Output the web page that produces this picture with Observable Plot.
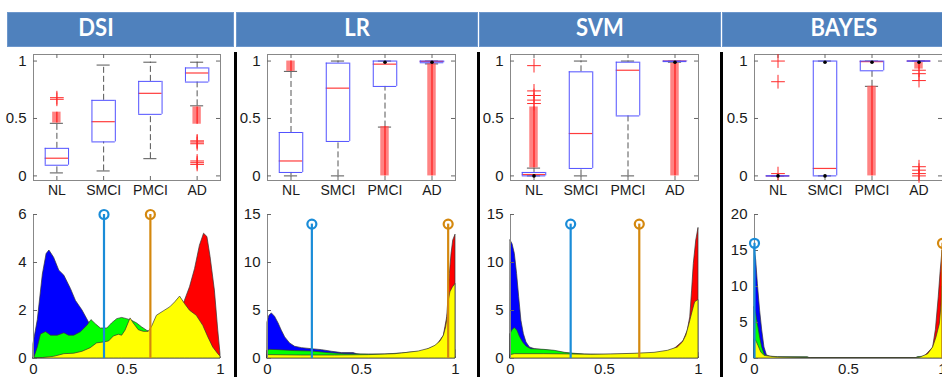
<!DOCTYPE html>
<html><head><meta charset="utf-8">
<script src="https://cdn.jsdelivr.net/npm/d3@7"></script>
<script src="https://cdn.jsdelivr.net/npm/@observablehq/plot@0.6"></script>
<style>
body{margin:0;background:#fff;}
#root{position:relative;width:942px;height:377px;overflow:hidden;background:#fff;}
.hdr{position:absolute;top:12px;height:35px;background:#4F81BD;box-shadow:inset 0 0 0 1px #6d97cc;}
.ttl{position:absolute;top:9px;height:35px;line-height:35px;color:#fff;font-family:Lato,"Open Sans",sans-serif;font-weight:bold;font-size:25px;transform:translateX(-50%) scaleX(0.88);white-space:nowrap;}
.sep{position:absolute;top:52px;height:325px;width:3px;background:#000;}
.pl{position:absolute;}
</style></head><body><div id="root"></div>
<script>
// ---------- data ----------
const methods = ["DSI", "LR", "SVM", "BAYES"];
const groups = ["NL", "SMCI", "PMCI", "AD"];

// box stats per group: [lower whisker, q1, median, q3, upper whisker]
const boxDSI   = [[0.026,0.093,0.154,0.24,0.458],[0.043,0.296,0.472,0.658,0.965],[0.15,0.536,0.719,0.823,0.99],[0.61,0.817,0.896,0.94,0.99]];
const boxLR    = [[0,0.03,0.13,0.378,0.91],[0,0.30,0.764,0.982,1],[0.425,0.779,0.973,1,1],[0.975,0.985,0.997,1,1]];
const boxSVM   = [[0,0,0.012,0.03,0.068],[0,0.065,0.369,0.906,1],[0,0.522,0.92,0.99,1],[0.99,0.995,1,1,1]];
const boxBAYES = [[0,0,0,0,0],[0,0,0.065,1,1],[0.78,0.915,0.995,1,1],[1,1,1,1,1]];

// single outliers (+) per group
const outDSI   = [[0.667,0.681],[],[],[0.28,0.295,0.305,0.1,0.115,0.13]];
const outLR    = [[],[],[],[]];
const outSVM   = [[0.63,0.66,0.7,0.74,0.96],[],[],[]];
const outBAYES = [[1.0,0.82,0.02],[],[],[0.92,0.89,0.83,0.08,0.05,0.02,0.0]];

// dense runs of outliers per group: [from, to]
const bandDSI   = [[[0.46,0.555]],[],[],[[0.45,0.6]]];
const bandLR    = [[[0.91,1.0]],[],[[0,0.43]],[[0,0.98]]];
const bandSVM   = [[[0.07,0.6]],[],[],[[0,0.98]]];
const bandBAYES = [[],[],[[0,0.78]],[[0.93,0.99]]];

// black markers per group
const dotDSI   = [[],[],[],[]];
const dotLR    = [[],[],[0.99],[0.99]];
const dotSVM   = [[0],[],[],[0.99]];
const dotBAYES = [[0],[0,0.99],[0.99],[0.99]];

// density curves [x, density]
const dsiNL   = [[0,0.6],[0.023,1.6],[0.05,3.5],[0.07,4.35],[0.085,4.5],[0.11,4.2],[0.138,3.66],[0.165,3.45],[0.2,2.9],[0.227,2.4],[0.262,2.0],[0.297,1.5],[0.33,1.1],[0.36,0.8],[0.4,0.5],[0.45,0.25],[0.5,0.1],[0.55,0.03],[0.6,0],[1,0]];
const dsiSMCI = [[0,0],[0.005,0.04],[0.023,0.46],[0.04,1.0],[0.067,1.1],[0.094,0.95],[0.13,0.95],[0.165,1.05],[0.19,0.95],[0.218,0.95],[0.253,1.09],[0.288,1.36],[0.31,1.6],[0.333,1.43],[0.36,1.25],[0.395,1.25],[0.42,1.46],[0.448,1.64],[0.474,1.69],[0.5,1.64],[0.527,1.57],[0.554,1.46],[0.58,1.3],[0.607,1.16],[0.625,1.09],[0.66,1.0],[0.7,0.8],[0.8,0.5],[0.9,0.2],[1,0.05]];
const dsiPMCI = [[0,0],[0.05,0.02],[0.11,0.07],[0.165,0.18],[0.218,0.2],[0.262,0.28],[0.306,0.43],[0.34,0.63],[0.377,0.67],[0.404,0.71],[0.43,0.92],[0.457,0.99],[0.474,0.95],[0.492,1.16],[0.519,1.67],[0.536,1.46],[0.563,1.18],[0.59,1.11],[0.616,1.11],[0.634,1.32],[0.66,1.78],[0.696,1.96],[0.731,2.13],[0.758,2.34],[0.784,2.58],[0.81,2.27],[0.837,1.99],[0.873,1.78],[0.908,1.36],[0.935,0.88],[0.961,0.46],[0.988,0.18],[1,0.08]];
const dsiAD   = [[0.4,0],[0.5,0.1],[0.6,0.3],[0.7,0.8],[0.75,1.3],[0.78,1.8],[0.81,2.41],[0.837,2.97],[0.864,3.73],[0.89,4.7],[0.912,5.2],[0.93,5.06],[0.947,4.22],[0.97,2.83],[0.988,1.16],[1,0.18]];

const lrNL   = [[0,3.76],[0.01,4.45],[0.023,4.7],[0.04,4.35],[0.059,3.65],[0.076,2.9],[0.094,2.2],[0.12,1.57],[0.147,1.22],[0.183,1.08],[0.236,0.97],[0.29,0.87],[0.343,0.7],[0.396,0.56],[0.458,0.56],[0.476,0.45],[0.5,0.35],[0.7,0.3],[0.9,0.3],[1,0.2]];
const lrSMCI = [[0,0.8],[0.014,0.9],[0.059,0.87],[0.147,0.77],[0.236,0.73],[0.325,0.56],[0.414,0.45],[0.538,0.42],[0.627,0.42],[0.716,0.52],[0.77,0.63],[0.85,0.7],[0.95,0.8],[1,0.9]];
const lrPMCI = [[0,0.35],[0.18,0.31],[0.36,0.31],[0.54,0.35],[0.68,0.45],[0.75,0.6],[0.805,0.73],[0.858,1.0],[0.893,1.32],[0.92,1.78],[0.938,2.37],[0.95,3.24],[0.956,4.0],[0.96,4.63],[0.964,6.0],[0.973,6.9],[0.986,7.4],[1,7.76]];
const lrAD   = [[0.8,0.5],[0.9,1.3],[0.938,2.37],[0.956,4.3],[0.964,6.7],[0.97,8.8],[0.979,10.9],[0.988,12.3],[1,12.9]];

const svmNL   = [[0,12.3],[0.011,11.9],[0.023,10.9],[0.035,8.8],[0.046,6.4],[0.058,3.93],[0.071,2.54],[0.085,1.67],[0.103,1.15],[0.13,0.97],[0.2,0.8],[0.3,0.5],[0.4,0.35],[0.5,0.3],[0.7,0.3],[1,0.2]];
const svmSMCI = [[0,2.54],[0.011,2.96],[0.023,3.17],[0.037,2.9],[0.05,2.26],[0.067,1.67],[0.085,1.25],[0.11,0.97],[0.18,0.9],[0.235,0.8],[0.29,0.59],[0.34,0.49],[0.395,0.42],[0.5,0.38],[0.6,0.4],[0.8,0.5],[1,0.6]];
const svmPMCI = [[0,0.35],[0.023,0.45],[0.18,0.45],[0.32,0.42],[0.43,0.38],[0.536,0.42],[0.66,0.49],[0.766,0.59],[0.837,0.8],[0.89,1.15],[0.917,1.67],[0.935,2.37],[0.952,3.59],[0.97,4.98],[0.982,5.85],[1,6.1]];
const svmAD   = [[0.85,0.6],[0.92,1.8],[0.943,2.9],[0.956,4.28],[0.966,7.07],[0.975,9.85],[0.988,12.29],[1,13.6]];

const bayNL   = [[0,15.45],[0.009,13.6],[0.018,10.3],[0.03,6.6],[0.041,3.9],[0.053,1.53],[0.066,0.46],[0.089,0.14],[0.124,0.05],[0.2,0],[1,0]];
const baySMCI = [[0,7.1],[0.009,6.17],[0.018,4.78],[0.03,2.92],[0.041,1.53],[0.053,0.6],[0.066,0.28],[0.124,0.19],[0.284,0.19],[0.293,0.05],[0.86,0.05],[0.87,0.2],[0.93,0.25],[0.95,0.8],[1,3]];
const bayPMCI = [[0,2.6],[0.009,2.46],[0.021,1.76],[0.036,0.84],[0.053,0.37],[0.089,0.23],[0.124,0.14],[0.3,0.05],[0.85,0.05],[0.88,0.1],[0.924,0.6],[0.95,1.53],[0.968,2.92],[0.986,4.78],[0.995,7.5],[1,10]];
const bayAD   = [[0.9,0.1],[0.95,1.5],[0.965,4],[0.98,8.5],[0.99,12],[1,15]];

// stems [x, height]: [blue, orange]
const stemDSI   = [[0.377,6],[0.625,6]];
const stemLR    = [[0.236,14],[0.961,14]];
const stemSVM   = [[0.32,14],[0.685,14]];
const stemBAYES = [[0,16],[1,16]];

const yMax   = [6, 15, 15, 20];
const yTicks = [[0,2,4,6],[0,5,10,15],[0,5,10,15],[0,5,10,15,20]];

// ---------- layout ----------
const X0 = [33, 267, 510, 754];
const FW = [187, 188, 188, 188];
const hdrs = [[7,234],[236,477.5],[479,720.5],[722,960]];
const ttlX = [96, 357, 600, 844];
const seps = [234, 477, 720];

const root = document.getElementById("root");
hdrs.forEach((h,k)=>{
  const d = document.createElement("div"); d.className="hdr";
  d.style.left = h[0]+"px"; d.style.width=(h[1]-h[0])+"px"; root.appendChild(d);
  const t = document.createElement("div"); t.className="ttl"; t.textContent = methods[k];
  t.style.left = ttlX[k]+"px"; root.appendChild(t);
});
seps.forEach(x=>{const d=document.createElement("div");d.className="sep";d.style.left=x+"px";root.appendChild(d);});

const font = {fontFamily:'"Liberation Sans", Arial, sans-serif', fontSize:"15px", color:"#1a1a1a", background:"transparent", overflow:"visible"};

const boxCfg = [
  [boxDSI,outDSI,bandDSI,dotDSI],[boxLR,outLR,bandLR,dotLR],
  [boxSVM,outSVM,bandSVM,dotSVM],[boxBAYES,outBAYES,bandBAYES,dotBAYES]];
const densCfg = [[dsiNL,dsiSMCI,dsiPMCI,dsiAD],[lrNL,lrSMCI,lrPMCI,lrAD],[svmNL,svmSMCI,svmPMCI,svmAD],[bayNL,baySMCI,bayPMCI,bayAD]];
const stems = [stemDSI, stemLR, stemSVM, stemBAYES];

const ML = 35, FH = 126, YLO = -0.04, YHI = 1.057;

function boxChart(k){
  const [stats, outs, bands, dots] = boxCfg[k];
  const w = FW[k];
  const ux = 4 / w, uy = (YHI - YLO) / FH;
  const rows = stats.map((s,i)=>({i:i+1, lo:s[0], q1:s[1], med:s[2], q3:s[3], hi:s[4]}));
  const outRows = outs.flatMap((a,i)=>a.map(v=>({i:i+1, v})));
  const bandRows = bands.flatMap((a,i)=>a.map(b=>({i:i+1, lo:b[0], hi:b[1]})));
  const dotRows = dots.flatMap((a,i)=>a.map(v=>({i:i+1, v})));
  const blue = "#5050ff", wc = "#555";
  return Plot.plot({
    width: ML + w + 8, height: 5 + FH + 22,
    marginLeft: ML, marginRight: 8, marginTop: 5, marginBottom: 22,
    x: {domain:[0.5,4.5]}, y: {domain:[YLO,YHI]},
    style: font,
    marks: [
      Plot.frame({stroke:"#888"}),
      Plot.ruleY([0,0.5,1], {x1:0.5, x2:0.5+4*ux, stroke:"#666"}),
      Plot.ruleY([0,0.5,1], {x1:4.5-4*ux, x2:4.5, stroke:"#666"}),
      Plot.ruleX([1,2,3,4], {y1:YLO, y2:YLO+4*uy, stroke:"#666"}),
      Plot.ruleX([1,2,3,4], {y1:YHI-4*uy, y2:YHI, stroke:"#666"}),
      Plot.ruleX(rows, {x:"i", y1:"q3", y2:"hi", stroke:wc, strokeDasharray:"6,3"}),
      Plot.ruleX(rows, {x:"i", y1:"lo", y2:"q1", stroke:wc, strokeDasharray:"6,3"}),
      Plot.ruleY(rows, {y:"hi", x1:d=>d.i-0.14, x2:d=>d.i+0.14, stroke:wc}),
      Plot.ruleY(rows, {y:"lo", x1:d=>d.i-0.14, x2:d=>d.i+0.14, stroke:wc}),
      Plot.rect(bandRows, {x1:d=>d.i-0.09, x2:d=>d.i+0.09, y1:"lo", y2:"hi", fill:"#ff5a5a", fillOpacity:0.75}),
      Plot.ruleX(bandRows, {x:"i", y1:"lo", y2:"hi", stroke:"#ff1a1a", strokeWidth:1.2}),
      Plot.dot(outRows, {x:"i", y:"v", symbol:"plus", stroke:"#ff2a2a", r:4.5, strokeWidth:1}),
      Plot.ruleY(rows, {y:"med", x1:d=>d.i-0.25, x2:d=>d.i+0.25, stroke:"#ff3c3c", strokeWidth:1.2}),
      Plot.ruleY(rows, {y:"q1", x1:d=>d.i-0.25, x2:d=>d.i+0.25, stroke:blue}),
      Plot.ruleY(rows, {y:"q3", x1:d=>d.i-0.25, x2:d=>d.i+0.25, stroke:blue}),
      Plot.ruleX(rows, {x:d=>d.i-0.25, y1:"q1", y2:"q3", stroke:blue}),
      Plot.ruleX(rows, {x:d=>d.i+0.25, y1:"q1", y2:"q3", stroke:blue}),
      Plot.dot(dotRows, {x:"i", y:"v", r:1.8, fill:"#000"}),
      Plot.axisY([0,0.5,1], {tickSize:0, tickPadding:7, tickFormat:d=>String(d), label:null}),
      Plot.axisX([1,2,3,4], {tickSize:0, tickPadding:5, tickFormat:d=>groups[d-1], fontSize:14, label:null})
    ]
  });
}

function densChart(k){
  const series = densCfg[k];
  const w = FW[k];
  const colors = ["#0000ff","#00ff00","#ffff00","#ff0000"];
  const order = [0,3,1,2];
  const st = stems[k];
  const ux = 1 / w;
  return Plot.plot({
    width: ML + w + 10, height: 10 + 144 + 20,
    marginLeft: ML, marginRight: 10, marginTop: 10, marginBottom: 20,
    x: {domain:[0,1]}, y: {domain:[0, yMax[k]]},
    style: font,
    marks: [
      ...order.map(c => Plot.areaY(series[c], {x:d=>d[0], y:d=>d[1], fill:colors[c], stroke:"#333", strokeWidth:0.7})),
      Plot.ruleX([0], {y1:0, y2:yMax[k], stroke:"#888"}),
      Plot.ruleY([0], {x1:0, x2:1, stroke:"#888"}),
      Plot.ruleY(yTicks[k], {x1:0, x2:4*ux, stroke:"#666"}),
      Plot.ruleX([st[0]], {x:d=>d[0], y1:0, y2:d=>d[1], stroke:"#1a8cd8", strokeWidth:2.2}),
      Plot.ruleX([st[1]], {x:d=>d[0], y1:0, y2:d=>d[1], stroke:"#d4880e", strokeWidth:2.2}),
      Plot.dot([st[0]], {x:d=>d[0], y:d=>d[1], r:4.5, stroke:"#1a8cd8", strokeWidth:2.2, fill:"none"}),
      Plot.dot([st[1]], {x:d=>d[0], y:d=>d[1], r:4.5, stroke:"#d4880e", strokeWidth:2.2, fill:"none"}),
      Plot.axisY(yTicks[k], {tickSize:0, tickPadding:7, tickFormat:d=>String(d), label:null}),
      Plot.axisX([0,0.5,1], {tickSize:0, tickPadding:5, tickFormat:d=>String(d), label:null})
    ]
  });
}

for (let k = 0; k < 4; k++){
  const b = boxChart(k); b.classList.add("pl");
  b.style.left = (X0[k]-ML)+"px"; b.style.top = (54-5)+"px"; b.style.position="absolute";
  root.appendChild(b);
  const d = densChart(k); d.classList.add("pl");
  d.style.left = (X0[k]-ML)+"px"; d.style.top = (214-10)+"px"; d.style.position="absolute";
  root.appendChild(d);
}
</script></body></html>
